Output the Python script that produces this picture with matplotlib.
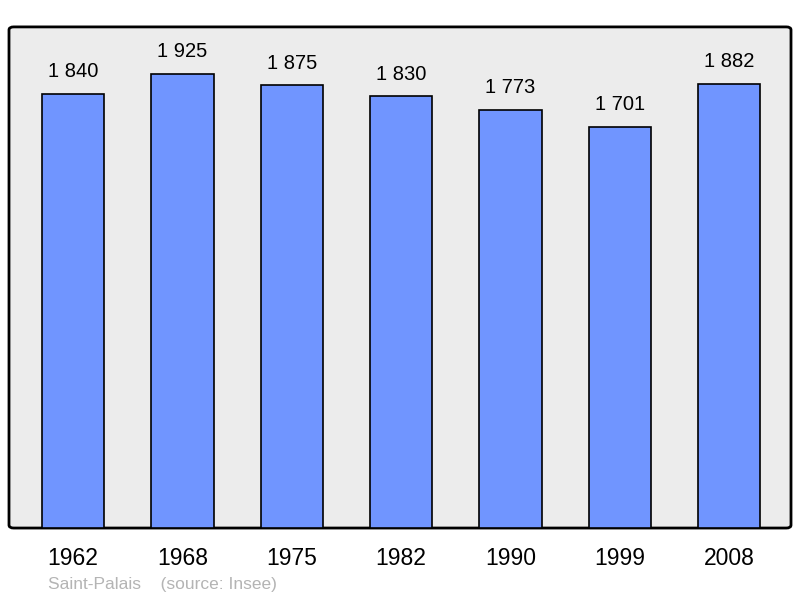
import matplotlib.pyplot as plt
from matplotlib.patches import FancyBboxPatch

# Data
years = ["1962", "1968", "1975", "1982", "1990", "1999", "2008"]
population = [1840, 1925, 1875, 1830, 1773, 1701, 1882]

plt.rcParams['font.family'] = ['Liberation Sans', 'DejaVu Sans']

fig = plt.figure(figsize=(8, 5.98), dpi=100)
ax = fig.add_axes([0.01125, 0.117, 0.9775, 0.838])
ax.set_facecolor('none')

# rounded frame with grey background
frame = FancyBboxPatch((0, 0), 1, 1, boxstyle="round,pad=0,rounding_size=0.006",
                       transform=ax.transAxes, facecolor='#ececec', edgecolor='black',
                       linewidth=2, clip_on=False, zorder=0)
ax.add_patch(frame)

x = range(len(years))
bars = ax.bar(x, population, width=0.57, color='#7095ff', edgecolor='black',
              linewidth=1.2, zorder=2)

for xi, v in zip(x, population):
    label = f"{v:,}".replace(",", " ")
    ax.annotate(label, (xi, v), xytext=(0, 9), textcoords='offset points',
                ha='center', va='bottom', fontsize=14.5, zorder=3)

ax.set_xlim(-0.585, 6.565)
ax.set_ylim(0, 2123)
ax.set_xticks(list(x))
ax.set_xticklabels(years, fontsize=16.5)
ax.tick_params(axis='x', length=0, pad=14)
ax.set_yticks([])
for s in ax.spines.values():
    s.set_visible(False)

fig.text(0.06, 1 - 584 / 598, "Saint-Palais    (source: Insee)", fontsize=12.5,
         color='#b4b4b4', va='center', ha='left')

plt.savefig('out.png', dpi=100)
